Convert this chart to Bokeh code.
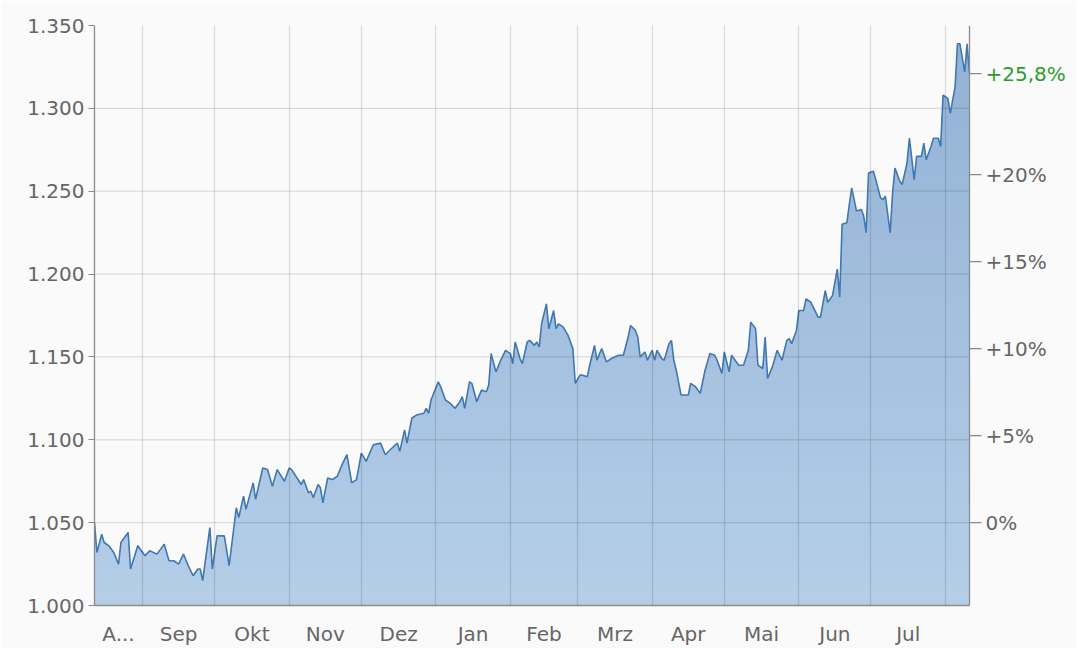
import numpy as np
import pandas as pd
from bokeh.plotting import figure
from bokeh.models import Range1d, FixedTicker, CustomJSTickFormatter, ColumnDataSource
from bokeh.core.properties import value
from bokeh.embed import file_html
from bokeh.resources import INLINE

# ---------------- data ----------------
start_date = "2022-08-12"
# days since start_date
days = [0, 1, 3, 4, 6, 8, 10, 11, 14, 15, 18, 21, 23, 26, 29, 31, 33, 35, 37, 39,
        41, 43, 44, 45, 48, 49, 51, 54, 56, 59, 60, 62, 63, 66, 67, 70, 72, 74, 76, 79,
        81, 82, 86,
        87, 89, 90, 91, 93, 94, 95, 97, 99, 101, 103, 105, 107, 109, 111, 113, 116, 119, 121, 123,
        126, 127, 129, 130, 132, 134, 137, 138, 139, 140, 143, 144, 146, 148, 150, 152, 153, 154, 156, 157,
        159, 161, 163, 164, 165, 167, 169, 171,
        173, 174, 175, 177, 178, 180, 181, 183, 184, 185, 186, 188, 189, 191, 192, 193, 195, 197, 199, 200,
        202, 203, 205, 206, 208, 209, 211, 213, 215, 218, 220, 222, 223, 225, 226, 227, 229, 230, 232, 233,
        234, 236, 237, 239, 240, 241, 242, 244, 245, 247, 248, 250, 252, 254, 256, 258, 259, 261, 262, 264,
        265,
        268, 270, 272, 273, 275, 276, 278, 279, 280, 282, 284, 286, 288, 289, 290, 292, 293, 295, 296, 298,
        299, 301, 302, 304, 305, 307, 309, 310, 311, 313, 314, 315, 317, 319, 320, 321, 322, 324, 325, 327,
        328, 329, 331, 332, 333, 335, 336, 338, 339, 341, 342, 344, 345, 346, 348, 349, 351, 352, 353, 355,
        356, 358, 359, 360, 362, 363, 364]
values = [1.050, 1.032, 1.043, 1.038, 1.036, 1.032, 1.025, 1.038, 1.044, 1.022, 1.036, 1.030, 1.033, 1.031, 1.037, 1.027, 1.027, 1.025, 1.031, 1.024,
          1.018, 1.022, 1.022, 1.015, 1.047, 1.022, 1.042, 1.042, 1.024, 1.059, 1.053, 1.066, 1.058, 1.074, 1.064, 1.083, 1.082, 1.072, 1.082, 1.075,
          1.083, 1.082, 1.073,
          1.076, 1.068, 1.069, 1.065, 1.073, 1.071, 1.062, 1.077, 1.076, 1.078, 1.085, 1.091, 1.074, 1.076, 1.092, 1.087, 1.097, 1.098, 1.091, 1.094,
          1.098, 1.093, 1.106, 1.098, 1.113, 1.115, 1.116, 1.119, 1.116, 1.124, 1.135, 1.132, 1.124, 1.122, 1.119, 1.123, 1.126, 1.119, 1.135, 1.134,
          1.123, 1.130, 1.129, 1.133, 1.152, 1.141, 1.148, 1.154,
          1.152, 1.146, 1.159, 1.149, 1.146, 1.159, 1.160, 1.157, 1.159, 1.156, 1.170, 1.182, 1.167, 1.178, 1.167, 1.170, 1.168, 1.163, 1.155, 1.134,
          1.139, 1.139, 1.138, 1.145, 1.157, 1.148, 1.155, 1.147, 1.149, 1.151, 1.151, 1.162, 1.169, 1.166, 1.162, 1.150, 1.153, 1.148, 1.154, 1.148,
          1.154, 1.149, 1.148, 1.158, 1.160, 1.148, 1.142, 1.127, 1.127, 1.127, 1.134, 1.132, 1.128, 1.142, 1.152, 1.151, 1.148, 1.140, 1.153, 1.141,
          1.151,
          1.145, 1.145, 1.154, 1.171, 1.167, 1.145, 1.143, 1.162, 1.137, 1.144, 1.154, 1.148, 1.160, 1.161, 1.158, 1.166, 1.178, 1.178, 1.185, 1.183,
          1.180, 1.174, 1.174, 1.190, 1.183, 1.187, 1.203, 1.186, 1.230, 1.231, 1.242, 1.252, 1.238, 1.239, 1.235, 1.225, 1.261, 1.262, 1.257, 1.246,
          1.245, 1.247, 1.225, 1.249, 1.264, 1.256, 1.254, 1.267, 1.282, 1.257, 1.271, 1.271, 1.279, 1.269, 1.277, 1.282, 1.282, 1.277, 1.308, 1.306,
          1.297, 1.313, 1.339, 1.339, 1.322, 1.339, 1.321]

month_starts = ["2022-09-01", "2022-10-01", "2022-11-01", "2022-12-01", "2023-01-01", "2023-02-01",
                "2023-03-01", "2023-04-01", "2023-05-01", "2023-06-01", "2023-07-01", "2023-08-01"]
month_labels = ["A...", "Sep", "Okt", "Nov", "Dez", "Jan", "Feb", "Mrz", "Apr", "Mai", "Jun", "Jul"]
y_ticks = [1.0, 1.05, 1.1, 1.15, 1.2, 1.25, 1.3, 1.35]
pct_ticks = [0, 5, 10, 15, 20]

# ---------------- derived ----------------
def ms(ts):
    return pd.Timestamp(ts).value / 1e6

t0 = pd.Timestamp(start_date)
x = np.array([ms(t0 + pd.Timedelta(days=d)) for d in days])
v = np.array(values)
base = v[0]
last_pct = round((v[-1] / base - 1) * 100, 1)

ms_starts = [ms(s) for s in month_starts]
bounds = [x[0]] + ms_starts
mids = [(bounds[i] + bounds[i + 1]) / 2 for i in range(len(month_labels))]

BG = "#fafafa"
FONT = "DejaVu Sans"
LBL = "#666666"
GREEN = "#2f9a2f"
AX = "#8c8c8c"

# layout: frame from 94 to 1076 px; data part ends at 969 px (right axis)
W, H = 1076, 648
LEFT, TOP, BOTTOM = 94, 25, 42
DATA_RIGHT = 969
frame_w = W - LEFT
data_w = DATA_RIGHT - LEFT
x_end = x[0] + (x[-1] - x[0]) * frame_w / data_w

p = figure(width=W, height=H, x_axis_type="datetime",
           x_range=Range1d(x[0], x_end), y_range=Range1d(1.0, 1.35),
           output_backend="svg", toolbar_location=None,
           min_border_left=LEFT, min_border_right=0, min_border_top=TOP, min_border_bottom=BOTTOM,
           background_fill_color=BG, border_fill_color=BG)
p.outline_line_color = None

# gradient-like fill: stacked opaque layers, darker towards the top
c_bot = np.array([180, 206, 232])
c_top = np.array([146, 177, 212])
n_bands = 35
his = [1.0 + 0.01 * (k + 1) for k in range(n_bands)]
for k in reversed(range(n_bands)):
    f = k / (n_bands - 1)
    c = (c_bot * (1 - f) + c_top * f).round().astype(int)
    col = "#%02x%02x%02x" % tuple(c)
    p.varea(x=x, y1=1.0, y2=np.minimum(v, his[k]), fill_color=col, fill_alpha=1.0)

# horizontal grid lines, limited to the data span
yg = y_ticks[1:-1]
p.segment(x0=[x[0]] * len(yg), x1=[x[-1]] * len(yg), y0=yg, y1=yg,
          line_color="black", line_alpha=0.12, line_width=1.3)

p.line(x, v, line_color="#3f78b2", line_width=1.6)

# vertical grid lines at month starts
p.xgrid.ticker = FixedTicker(ticks=ms_starts)
p.xgrid.grid_line_color = "black"
p.xgrid.grid_line_alpha = 0.12
p.xgrid.grid_line_width = 1.3
p.xgrid.level = "annotation"
p.ygrid.grid_line_color = None

# x axis
xa = p.xaxis[0]
xa.bounds = (x[0], x[-1])
xa.ticker = FixedTicker(ticks=mids)
xa.formatter = CustomJSTickFormatter(args=dict(pos=mids, labs=month_labels), code="""
let b = 0;
for (let i = 0; i < pos.length; i++) {
  if (Math.abs(pos[i] - tick) < Math.abs(pos[b] - tick)) b = i;
}
return labs[b];
""")
xa.major_tick_line_color = None
xa.minor_tick_line_color = None
xa.major_label_standoff = 10
xa.axis_line_color = AX
xa.axis_line_width = 1.3

# left axis
ya = p.yaxis[0]
ya.ticker = FixedTicker(ticks=y_ticks)
ya.formatter = CustomJSTickFormatter(code="return tick.toFixed(3);")
ya.major_tick_out = 6
ya.major_tick_in = 0
ya.minor_tick_line_color = None
ya.major_tick_line_color = AX
ya.major_label_standoff = 4
ya.axis_line_color = AX
ya.axis_line_width = 1.3

for ax in (xa, ya):
    ax.major_label_text_font = FONT
    ax.major_label_text_font_size = "20px"
    ax.major_label_text_color = LBL

# right axis (percent change vs. first value) at the end of the data
p.segment(x0=[x[-1]], x1=[x[-1]], y0=[y_ticks[0]], y1=[y_ticks[-1]],
          line_color=AX, line_width=1.3)
r_pct = pct_ticks + [last_pct]
r_y = [base * (1 + t / 100) for t in r_pct]
r_txt = ["0%" if t == 0 else "+%g%%" % t for t in pct_ticks] + [("+%.1f%%" % last_pct).replace(".", ",")]
r_col = [LBL] * len(pct_ticks) + [GREEN]
rsrc = ColumnDataSource(dict(x=[x[-1]] * len(r_y), y=r_y, text=r_txt, color=r_col))
p.ray(x="x", y="y", length=12, length_units="screen", angle=0, source=rsrc,
      line_color=AX, line_width=1.3)
p.text(x="x", y="y", text="text", text_color="color", source=rsrc, x_offset=16,
       text_font=value(FONT), text_font_size=value("20px"),
       text_align="left", text_baseline="middle")

open("out.html", "w").write(file_html(p, INLINE))
